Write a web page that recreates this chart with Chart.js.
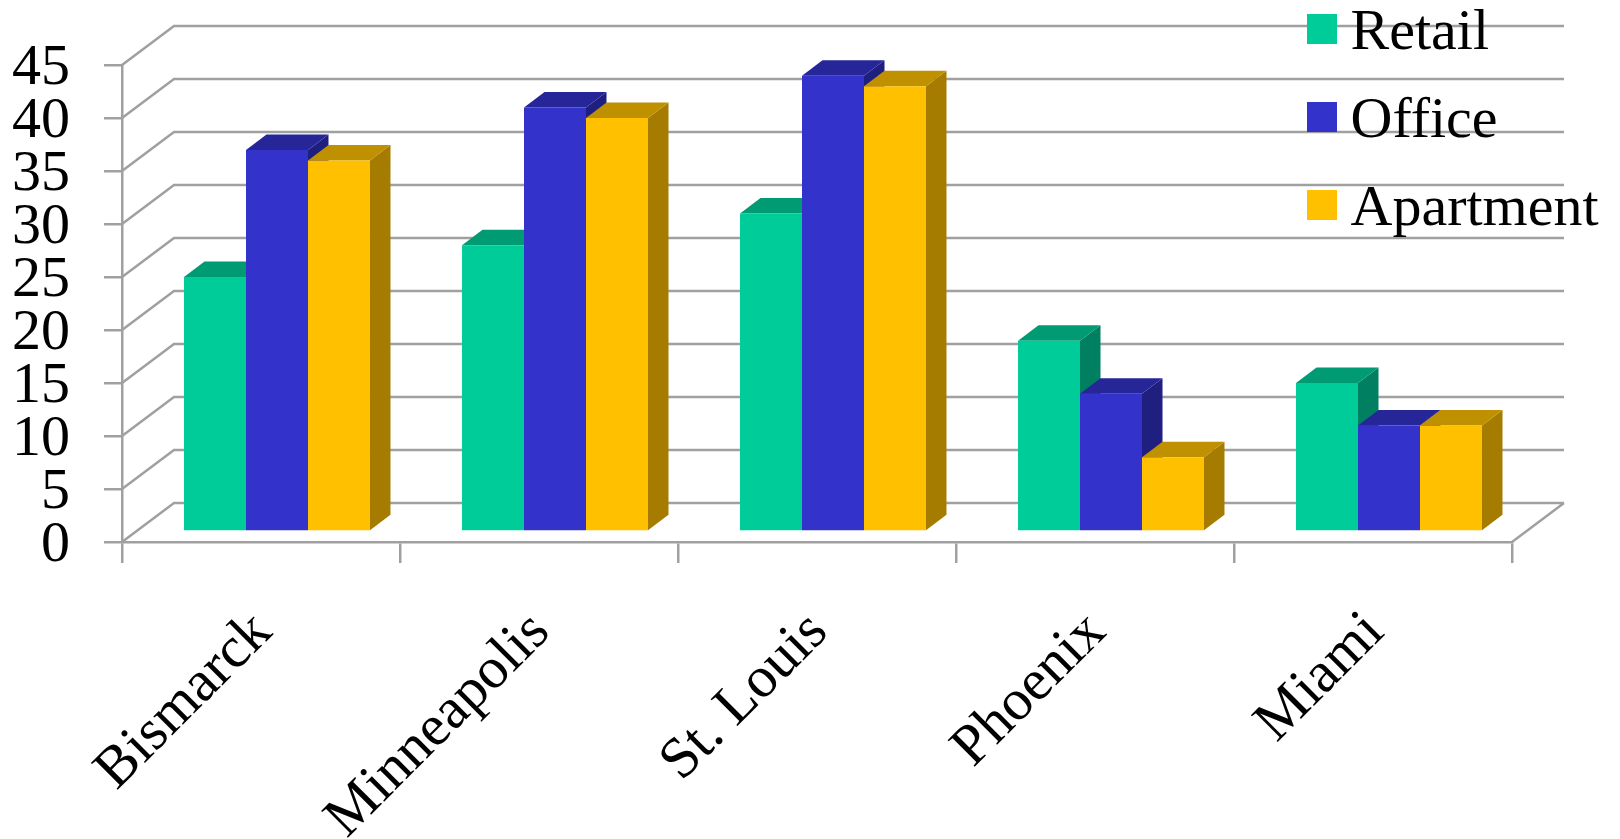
<!DOCTYPE html>
<html>
<head>
<meta charset="utf-8">
<style>
html,body{margin:0;padding:0;background:#fff;overflow:hidden}
#wrap{width:1620px;height:839px}
canvas{display:block;filter:blur(0.5px)}
</style>
<script src="https://cdn.jsdelivr.net/npm/chart.js@4"></script>
</head>
<body>
<div id="wrap"><canvas id="c" width="1620" height="839"></canvas></div>
<script>
const categories = ['Bismarck','Minneapolis','St. Louis','Phoenix','Miami'];
const retail = [24,27,30,18,14];
const office = [36,40,43,13,10];
const apartment = [35,39,42,7,10];
const yTicks = [0,5,10,15,20,25,30,35,40,45];

const FONT = '"Liberation Serif","Times New Roman",serif';
const GRID = '#a0a0a0';
const WALL = {dx:52, dy:-39};     // depth of the back wall
const PLANE = {dx:16, dy:-10.5};  // where the bars' front face sits
const DEPTH = {dx:20.5, dy:-15.5};// depth of each bar

const shades = [
  {front:'#00CC99', top:'#009A73', side:'#008060'},
  {front:'#3333CC', top:'#262699', side:'#1F1F80'},
  {front:'#FFC000', top:'#BF9000', side:'#A67C00'}
];

function swatch(color){
  const c = document.createElement('canvas');
  c.width = 36; c.height = 40;
  const g = c.getContext('2d');
  g.fillStyle = color;
  g.fillRect(4,0,30,30);
  return c;
}

const threeD = {
  id:'threeD',
  afterLayout(chart){
    const lg = chart.legend;
    lg.left = 1290.5; lg.right = 1620;
    lg.top = -25; lg.bottom = 400;
  },
  beforeDraw(chart){
    const {ctx, chartArea:a, scales:{y}} = chart;
    ctx.save();
    ctx.strokeStyle = GRID; ctx.lineWidth = 2.5;
    ctx.beginPath();
    y.ticks.forEach(t=>{
      const py = y.getPixelForValue(t.value);
      ctx.moveTo(a.left, py);
      ctx.lineTo(a.left+WALL.dx, py+WALL.dy);
      ctx.lineTo(a.right+WALL.dx, py+WALL.dy);
    });
    const y0 = y.getPixelForValue(0);
    ctx.moveTo(a.right, y0);
    ctx.lineTo(a.right+WALL.dx, y0+WALL.dy);
    ctx.stroke();
    ctx.restore();
  },
  beforeDatasetsDraw(chart){
    const ctx = chart.ctx;
    // side and top faces, left to right; the library's bars then cover what is hidden
    ctx.save();
    ctx.translate(PLANE.dx, PLANE.dy);
    const metas = chart.data.datasets.map((d,i)=>chart.getDatasetMeta(i));
    categories.forEach((c,ci)=>{
      metas.forEach((m,di)=>{
        const b = m.data[ci], s = shades[di];
        const l = b.x-b.width/2, r = b.x+b.width/2, t = b.y, base = b.base;
        ctx.fillStyle = s.side;
        ctx.beginPath();
        ctx.moveTo(r,t); ctx.lineTo(r+DEPTH.dx,t+DEPTH.dy);
        ctx.lineTo(r+DEPTH.dx,base+DEPTH.dy); ctx.lineTo(r,base);
        ctx.closePath(); ctx.fill();
        ctx.fillStyle = s.top;
        ctx.beginPath();
        ctx.moveTo(l,t); ctx.lineTo(l+DEPTH.dx,t+DEPTH.dy);
        ctx.lineTo(r+DEPTH.dx,t+DEPTH.dy); ctx.lineTo(r,t);
        ctx.closePath(); ctx.fill();
      });
    });
    ctx.restore();
  },
  beforeDatasetDraw(chart){
    chart.ctx.save();
    chart.ctx.translate(PLANE.dx, PLANE.dy);
  },
  afterDatasetDraw(chart){ chart.ctx.restore(); }
};

new Chart(document.getElementById('c'),{
  type:'bar',
  plugins:[threeD],
  data:{
    labels:categories,
    datasets:[
      {label:'Retail',data:retail,backgroundColor:shades[0].front,clip:false},
      {label:'Office',data:office,backgroundColor:shades[1].front,clip:false},
      {label:'Apartment',data:apartment,backgroundColor:shades[2].front,clip:false}
    ]
  },
  options:{
    responsive:false,
    animation:false,
    devicePixelRatio:1,
    layout:{padding:{top:65,right:108,left:0,bottom:0}},
    datasets:{bar:{categoryPercentage:0.669,barPercentage:1,borderWidth:0}},
    plugins:{
      tooltip:{enabled:false},
      title:{display:false},
      legend:{
        position:'chartArea',
        align:'start',
        labels:{
          font:{family:FONT,size:58},
          color:'#000',
          padding:30,
          usePointStyle:true,
          pointStyleWidth:1,
          generateLabels(chart){
            return chart.data.datasets.map((d,i)=>({
              text:d.label,
              fillStyle:d.backgroundColor,
              strokeStyle:d.backgroundColor,
              pointStyle:swatch(d.backgroundColor),
              lineWidth:0,
              fontColor:'#000',
              datasetIndex:i,
              hidden:false
            }));
          }
        }
      }
    },
    scales:{
      x:{
        type:'category',
        afterFit(s){ s.height = 297; },
        grid:{drawOnChartArea:false,drawTicks:true,tickLength:21,color:GRID,lineWidth:2.5,offset:true},
        border:{color:GRID,width:2.5},
        ticks:{
          font:{family:FONT,size:58},color:'#000',
          minRotation:45,maxRotation:45,padding:35.5,labelOffset:2,autoSkip:false
        }
      },
      y:{
        type:'linear',min:0,max:45,
        afterFit(s){ s.width = 122; s.paddingTop = 0; s.paddingBottom = 0; },
        afterBuildTicks(s){ s.ticks = yTicks.map(v=>({value:v})); },
        grid:{drawOnChartArea:false,drawTicks:true,tickLength:18,color:GRID,lineWidth:2.5},
        border:{color:GRID,width:2.5},
        ticks:{font:{family:FONT,size:58},color:'#000',padding:34,autoSkip:false,labelOffset:3.5}
      }
    }
  }
});
</script>
</body>
</html>
